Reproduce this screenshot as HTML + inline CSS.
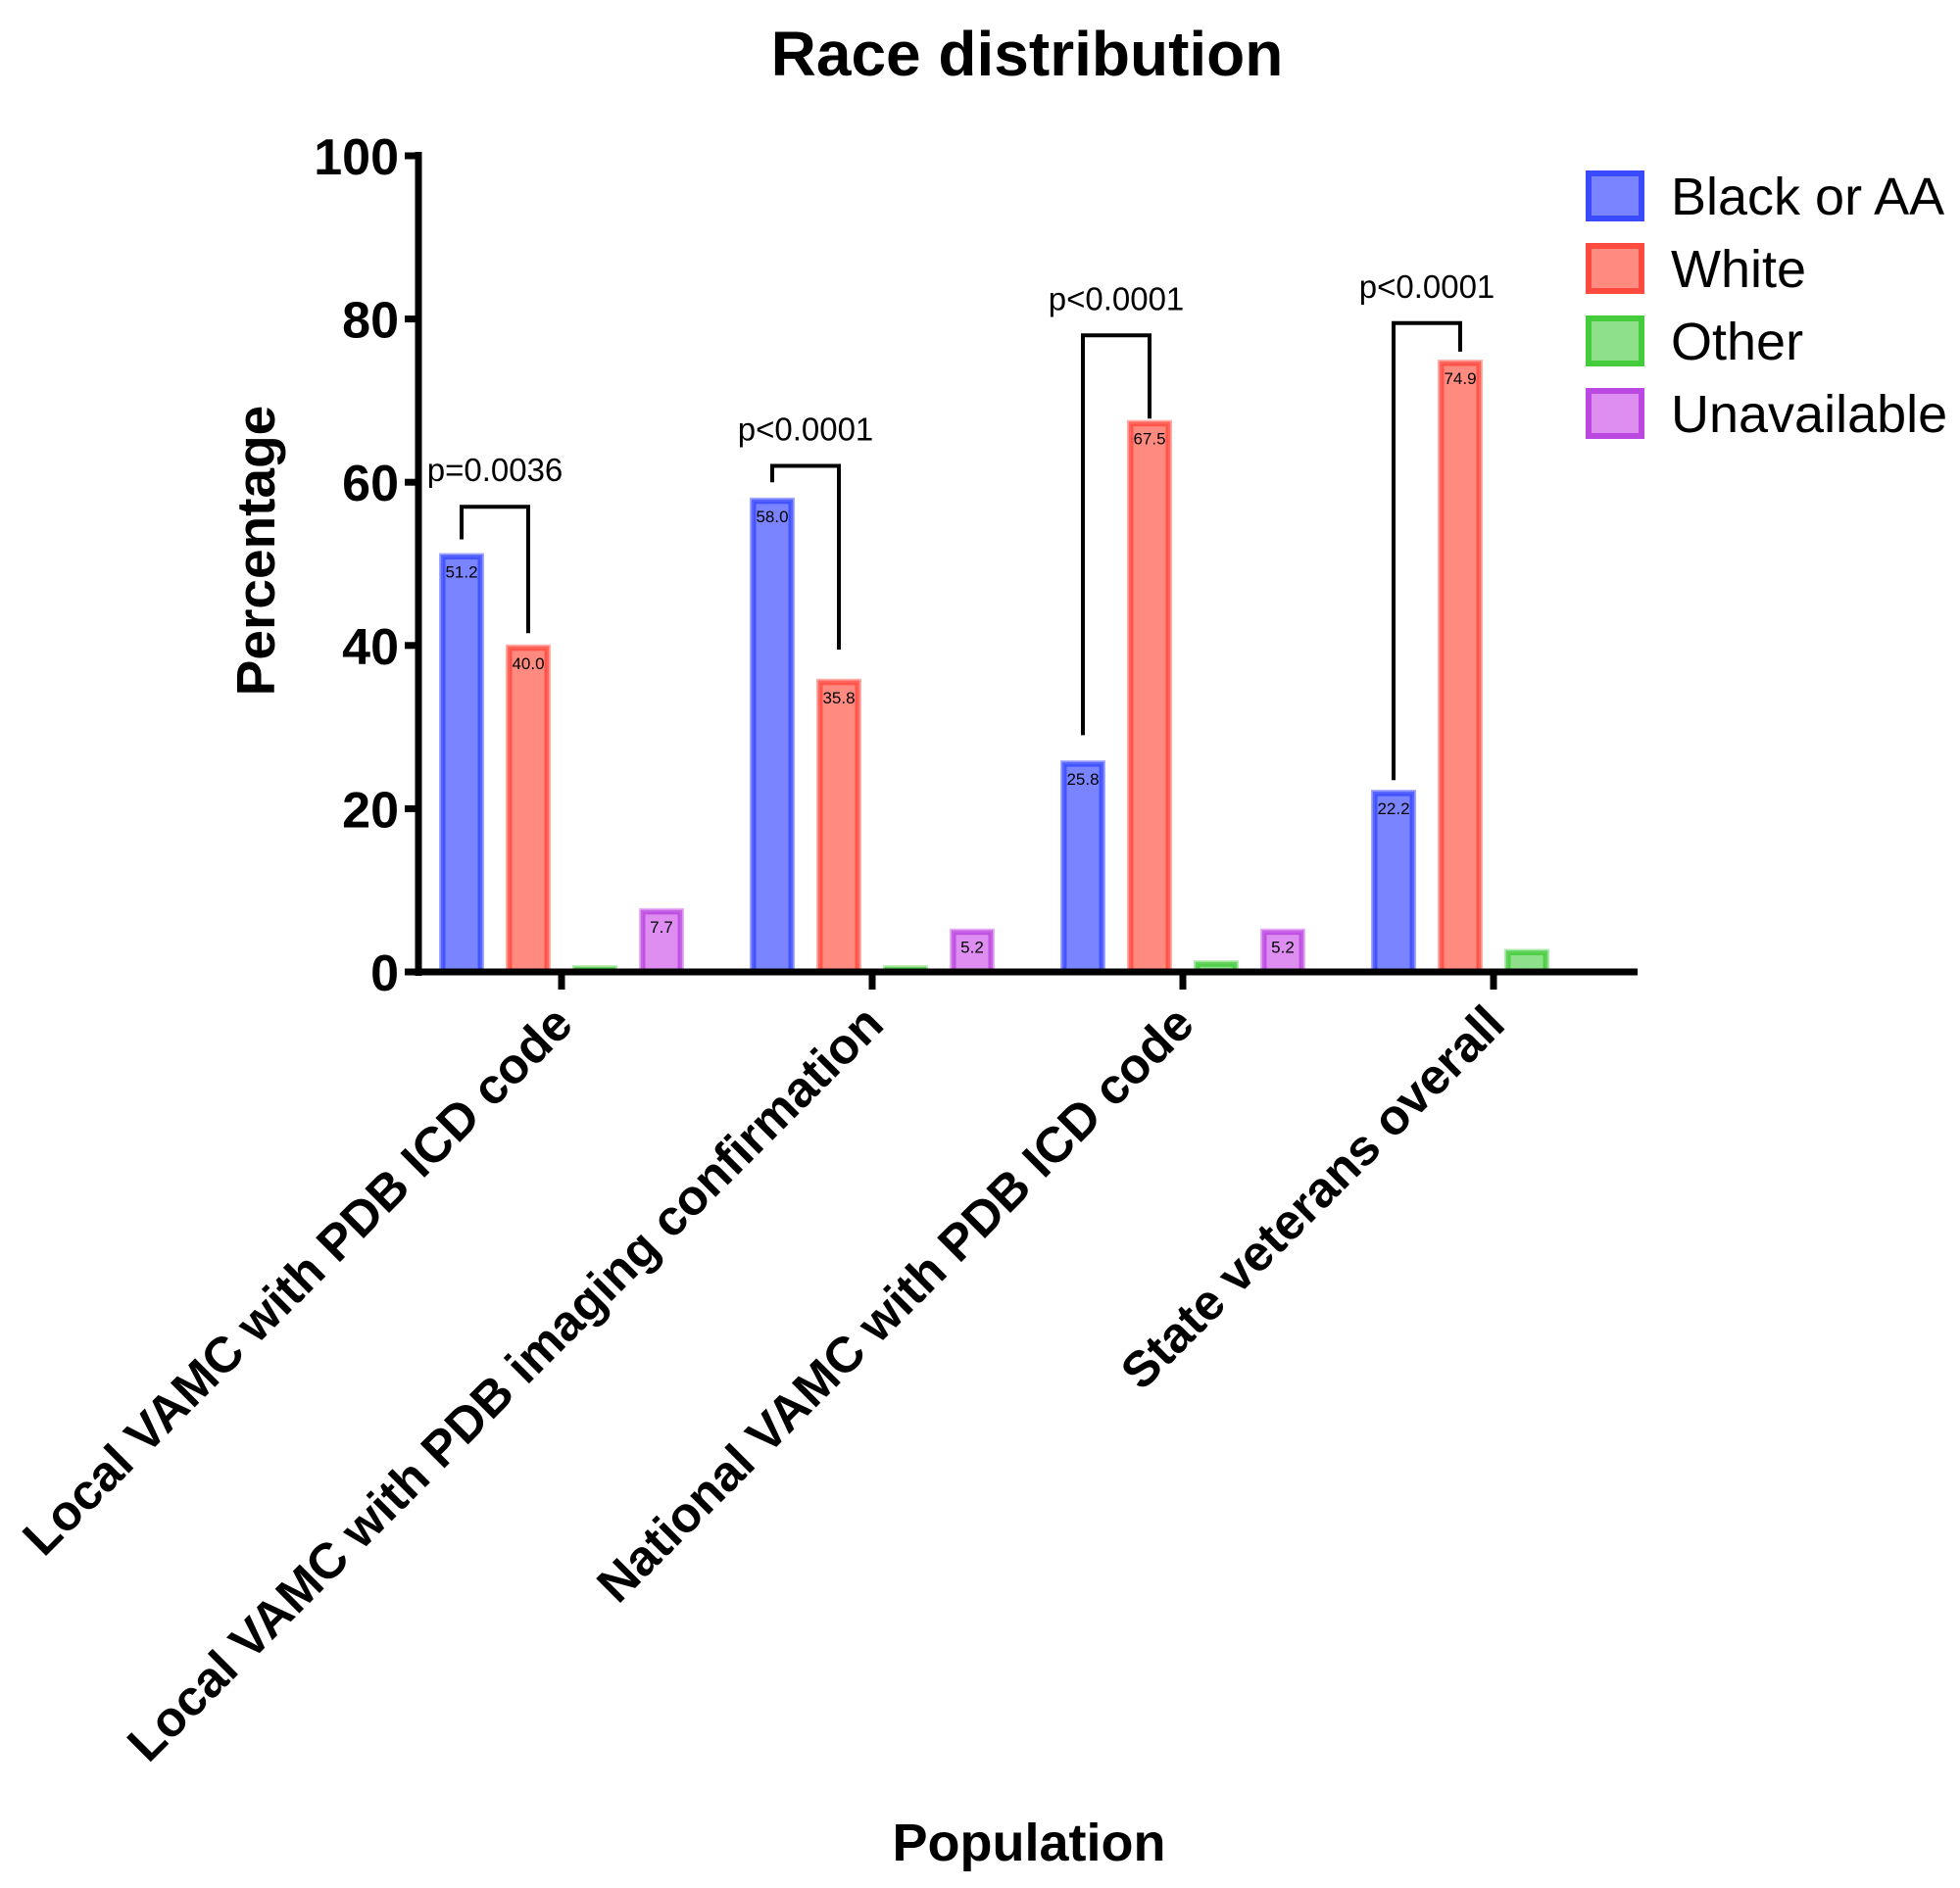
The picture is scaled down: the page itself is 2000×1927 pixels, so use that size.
<!DOCTYPE html>
<html><head><meta charset="utf-8"><style>
html,body{margin:0;padding:0;background:#fff;}
svg{display:block;font-family:"Liberation Sans",Arial,sans-serif;}
</style></head><body>
<svg id="chart" width="2000" height="1927" viewBox="0 0 2000 1927" xmlns="http://www.w3.org/2000/svg">
<text x="1048" y="77" text-anchor="middle" font-size="64" font-weight="bold">Race distribution</text>
<g id="plot"></g>
<text transform="translate(280,562) rotate(-90)" text-anchor="middle" font-size="55" font-weight="bold">Percentage</text>
<text x="1050" y="1899" text-anchor="middle" font-size="54" font-weight="bold">Population</text>
</svg>
<script>
const categories = ["Local VAMC with PDB ICD code","Local VAMC with PDB imaging confirmation","National VAMC with PDB ICD code","State veterans overall"];
const seriesNames = ["Black or AA","White","Other","Unavailable"];
const blackVals = [51.2, 58.0, 25.8, 22.2];
const whiteVals = [40.0, 35.8, 67.5, 74.9];
const otherVals = [0.7, 0.7, 1.3, 2.7];
const unavailVals = [7.7, 5.2, 5.2, 0];
const shownLabels = [[true,true,false,true],[true,true,false,true],[true,true,false,true],[true,true,false,false]];
const yTicks = [0, 20, 40, 60, 80, 100];
const pLabels = ["p=0.0036","p<0.0001","p<0.0001","p<0.0001"];
const pTop = [57, 62, 78, 79.5];
const pLeftEnd = [53, 60, 29, 23.5];
const pRightEnd = [41.5, 39.5, 67.8, 76];

const NS="http://www.w3.org/2000/svg";
const svg=document.getElementById('chart');
const plot=document.getElementById('plot');
const x0=427, y0=992, yTop=159, xEnd=1671;
const y=v=>y0-(y0-yTop)*v/100;
const groupX=i=>573+i*317;
const barW=44, pitch=68;
const barX=(i,s)=>groupX(i)-2*pitch+12+s*pitch;
const fills=["#7a84ff","#ff8a80","#8ee08a","#dd8ef0"];
const strokes=["#3a4aff","#ff4a40","#44cc3c","#bb48e0"];
const allVals=[blackVals,whiteVals,otherVals,unavailVals];
function mk(tag,attrs,parent){const e=document.createElementNS(NS,tag);for(const k in attrs)e.setAttribute(k,attrs[k]);(parent||plot).appendChild(e);return e;}

allVals.forEach((vals,s)=>{
  vals.forEach((v,i)=>{
    if(v<=0)return;
    const bx=barX(i,s), by=y(v), h=y0-by;
    const r=mk('rect',{x:bx+3,y:by+3,width:barW-6,height:Math.max(h-3,1),fill:fills[s],stroke:strokes[s],'stroke-width':5,'stroke-opacity':0.85});
    
    
    const o=mk('rect',{x:bx,y:by,width:barW,height:h,fill:'none',stroke:fills[s],'stroke-width':2,opacity:0.7});
    
    
    if(shownLabels[i][s]){
      const t=mk('text',{x:bx+barW/2,y:by+24,'text-anchor':'middle','font-size':17});
      t.textContent=v.toFixed(1);
      
      
    }
  });
});

const ya=mk('line',{x1:x0,y1:yTop-4,x2:x0,y2:y0+4,stroke:'#000','stroke-width':7});


const xa=mk('line',{x1:x0-4,y1:y0,x2:xEnd,y2:y0,stroke:'#000','stroke-width':7});


yTicks.forEach(t=>{
  const l=mk('line',{x1:x0-14,y1:y(t),x2:x0,y2:y(t),stroke:'#000','stroke-width':7});
  
  
  const tx=mk('text',{x:x0-20,y:y(t)+19,'text-anchor':'end','font-size':52,'font-weight':'bold'});
  tx.textContent=t;
  
  
});
categories.forEach((c,i)=>{
  const gx=groupX(i);
  const l=mk('line',{x1:gx,y1:y0,x2:gx,y2:y0+18,stroke:'#000','stroke-width':7});
  
  
  const t=mk('text',{transform:'translate('+(gx+14)+','+(y0+56)+') rotate(-45)','text-anchor':'end','font-size':51,'font-weight':'bold'});
  t.textContent=c;
  
  
  const lx=barX(i,0)+barW/2, rx=barX(i,1)+barW/2;
  const p=mk('polyline',{points:lx+','+y(pLeftEnd[i])+' '+lx+','+y(pTop[i])+' '+rx+','+y(pTop[i])+' '+rx+','+y(pRightEnd[i]),fill:'none',stroke:'#000','stroke-width':4});
  
  
  const pt=mk('text',{x:(lx+rx)/2,y:y(pTop[i])-26,'text-anchor':'middle','font-size':33});
  pt.textContent=pLabels[i];
  
  
});

seriesNames.forEach((n,s)=>{
  const cy=200+s*74;
  const r=mk('rect',{x:1621,y:cy-23,width:54,height:46,fill:fills[s],stroke:strokes[s],'stroke-width':6},svg);
  
  
  const t=mk('text',{x:1705,y:cy+19,'font-size':54},svg);
  t.textContent=n;
  
  
});
</script>
</body></html>
